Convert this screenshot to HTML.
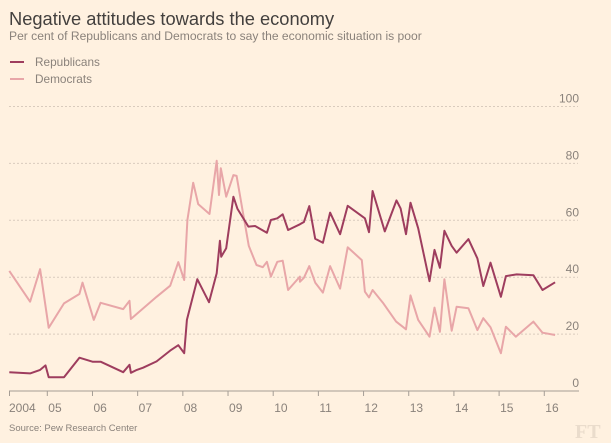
<!DOCTYPE html>
<html><head><meta charset="utf-8"><style>
body{margin:0;background:#fff1e0;width:611px;height:443px;overflow:hidden;font-family:"Liberation Sans",sans-serif}
svg{display:block}
</style></head><body>
<svg width="611" height="443">
<rect width="611" height="443" fill="#fff1e0"/>
<text x="9" y="25" font-size="18.3" fill="#43403e">Negative attitudes towards the economy</text>
<text x="9" y="40" font-size="12.1" fill="#8a827b">Per cent of Republicans and Democrats to say the economic situation is poor</text>
<g>
<g><line x1="10" y1="62" x2="24" y2="62" stroke="#9e3d5e" stroke-width="2"/><text x="35" y="66" font-size="11.8" fill="#8a827b">Republicans</text></g>
<g><line x1="10" y1="79" x2="24" y2="79" stroke="#e8a6a8" stroke-width="2"/><text x="35" y="83" font-size="11.8" fill="#8a827b">Democrats</text></g>
</g>
<g id="grid"></g>
<g id="yax"></g>
<g id="xax"></g>
<g id="series"></g>
<text x="9" y="431" font-size="9.5" fill="#8a827b">Source: Pew Research Center</text>
<text x="575" y="438" font-size="20" fill="#eadccc" font-family="Liberation Serif,serif" font-weight="bold">FT</text>
</svg>
<script>
const yTicks=[0,20,40,60,80,100];
const xTickYears=[2005,2006,2007,2008,2009,2010,2011,2012,2013,2014,2015,2016];
const xTickLabels=["05","06","07","08","09","10","11","12","13","14","15","16"];
const repYears=[2004.16,2004.62,2004.84,2004.96,2005.03,2005.37,2005.71,2006.00,2006.18,2006.68,2006.82,2006.85,2006.98,2007.12,2007.42,2007.72,2007.90,2008.03,2008.09,2008.32,2008.58,2008.75,2008.82,2008.85,2008.96,2009.12,2009.21,2009.45,2009.60,2009.86,2009.95,2010.09,2010.21,2010.33,2010.59,2010.68,2010.80,2010.93,2011.10,2011.26,2011.48,2011.65,2012.03,2012.12,2012.20,2012.47,2012.73,2012.82,2012.94,2013.04,2013.21,2013.46,2013.57,2013.69,2013.79,2013.95,2014.06,2014.32,2014.52,2014.65,2014.81,2015.04,2015.15,2015.39,2015.76,2015.96,2016.24];
const repValues=[6.6,6.2,7.4,9.0,4.8,4.8,11.7,10.3,10.3,6.6,9.2,6.4,7.4,8.2,10.4,14.2,16.1,13.3,25.0,39.3,31.2,41.4,52.8,47.2,50.2,68.3,64.0,57.8,58.0,55.6,60.1,60.7,62.1,56.6,58.6,59.4,65.0,53.5,52.1,62.7,55.1,65.1,60.7,55.8,70.3,56.1,67.0,64.2,55.1,66.2,57.2,38.6,49.6,43.3,56.3,51.0,48.6,53.4,46.6,36.9,45.1,33.1,40.4,41.0,40.7,35.5,38.2];
const demYears=[2004.16,2004.62,2004.84,2005.03,2005.37,2005.71,2005.78,2006.03,2006.18,2006.68,2006.82,2006.85,2006.98,2007.42,2007.72,2007.90,2008.03,2008.10,2008.23,2008.34,2008.59,2008.75,2008.80,2008.84,2008.96,2009.12,2009.19,2009.32,2009.46,2009.63,2009.77,2009.86,2009.95,2010.09,2010.21,2010.33,2010.59,2010.59,2010.68,2010.80,2010.93,2011.10,2011.26,2011.48,2011.65,2011.96,2012.03,2012.12,2012.20,2012.44,2012.72,2012.94,2013.04,2013.21,2013.46,2013.57,2013.69,2013.79,2013.95,2014.06,2014.32,2014.52,2014.65,2014.81,2015.04,2015.15,2015.37,2015.76,2015.96,2016.24];
const demValues=[42.2,31.4,42.8,22.2,30.8,34.1,38.1,25.0,31.0,28.8,31.7,25.3,27.1,33.1,37.0,45.3,39.0,60.1,73.2,65.7,62.2,80.9,68.9,78.3,68.3,75.9,75.6,63.6,51.0,44.3,43.5,45.4,40.2,45.4,45.8,35.5,40.2,38.4,39.8,43.9,38.1,34.6,43.9,36.0,50.5,46.0,34.9,32.9,35.5,30.8,24.4,21.7,33.6,25.0,19.1,29.3,20.8,39.3,21.2,29.6,29.1,21.4,25.6,22.4,13.3,22.6,19.1,24.4,20.5,19.7];
const NS="http://www.w3.org/2000/svg";
const X=yr=>47.3+(yr-2005)*45.18;
const Y=v=>391-v*2.845;
function mk(tag,attrs,parent){const e=document.createElementNS(NS,tag);for(const k in attrs)e.setAttribute(k,attrs[k]);parent.appendChild(e);return e;}
const grid=document.getElementById('grid'),yax=document.getElementById('yax'),xax=document.getElementById('xax'),ser=document.getElementById('series');
yTicks.forEach(t=>{
  if(t>0){const g=mk('line',{x1:9,x2:578,y1:Y(t),y2:Y(t),stroke:'#d9cbbd','stroke-dasharray':'2,2','stroke-width':1},grid);
  
  }
  const l=mk('text',{x:579,y:Y(t)-4,'text-anchor':'end','font-size':12,fill:'#8a827b'},yax);
  l.textContent=t;
  
  
});
const ax=mk('line',{x1:9,x2:579,y1:391,y2:391,stroke:'#a59d95','stroke-width':1},xax);


const t0=mk('line',{x1:9.5,x2:9.5,y1:391,y2:396,stroke:'#a59d95'},xax);


const l0=mk('text',{x:9,y:412,'font-size':12,fill:'#8a827b'},xax);
l0.textContent='2004';


xTickYears.forEach((yr,i)=>{
  const t=mk('line',{x1:X(yr),x2:X(yr),y1:391,y2:396,stroke:'#a59d95'},xax);
  
  
  const l=mk('text',{x:X(yr)+1,y:412,'font-size':12,fill:'#8a827b'},xax);
  l.textContent=xTickLabels[i];
  
  
});
function line(ys,vs,color,name){
  const d=ys.map((y,i)=>(i?'L':'M')+X(y).toFixed(1)+','+Y(vs[i]).toFixed(1)).join('');
  const p=mk('path',{d:d,fill:'none',stroke:color,'stroke-width':2,'stroke-linejoin':'round'},ser);
  
  
}
line(demYears,demValues,'#e8a6a8','democrats-line');
line(repYears,repValues,'#9e3d5e','republicans-line');
</script>
</body></html>
